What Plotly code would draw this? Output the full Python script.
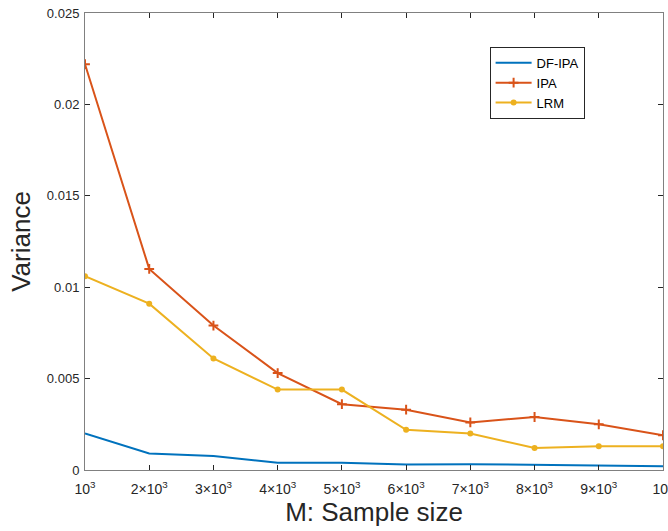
import plotly.graph_objects as go

sample_sizes = [1000, 2000, 3000, 4000, 5000, 6000, 7000, 8000, 9000, 10000]
df_ipa = [0.0020, 0.0009, 0.00077, 0.0004, 0.0004, 0.0003, 0.00032, 0.00028, 0.00026, 0.00021]
ipa = [0.0222, 0.0110, 0.0079, 0.0053, 0.0036, 0.0033, 0.0026, 0.0029, 0.0025, 0.0019]
lrm = [0.0106, 0.0091, 0.0061, 0.0044, 0.0044, 0.0022, 0.0020, 0.0012, 0.0013, 0.0013]

x_tick_text = ["10<sup>3</sup>"] + [f"{i}×10<sup>3</sup>" for i in range(2, 10)] + ["10<sup>4</sup>"]
y_tick_vals = [0, 0.005, 0.01, 0.015, 0.02, 0.025]
y_tick_text = ["0", "0.005", "0.01", "0.015", "0.02", "0.025"]

FONT = "Liberation Sans, Arial, Helvetica"
TXT = "#262626"

fig = go.Figure()
fig.add_trace(go.Scatter(x=sample_sizes, y=df_ipa, mode="lines", name="DF-IPA",
                         line=dict(color="#0072BD", width=2)))
fig.add_trace(go.Scatter(x=sample_sizes, y=ipa, mode="lines+markers", name="IPA",
                         line=dict(color="#D95319", width=2),
                         marker=dict(symbol="cross-thin", size=7,
                                     line=dict(color="#D95319", width=2))))
fig.add_trace(go.Scatter(x=sample_sizes, y=lrm, mode="lines+markers", name="LRM",
                         line=dict(color="#EDB120", width=2),
                         marker=dict(symbol="circle", size=6, color="#EDB120")))

axis_common = dict(showline=True, linecolor="#808080", linewidth=1, mirror="ticks",
                   ticks="inside", ticklen=5, tickcolor=TXT, showgrid=False,
                   zeroline=False, automargin=False)

fig.update_xaxes(range=[1000, 10000], tickvals=sample_sizes, ticktext=x_tick_text,
                 ticklabeloverflow="allow", ticklabelstandoff=6,
                 tickfont=dict(family=FONT, size=14, color=TXT),
                 title=dict(text="M: Sample size", font=dict(family=FONT, size=26, color=TXT),
                            standoff=6),
                 **axis_common)
fig.update_yaxes(range=[0, 0.025], tickvals=y_tick_vals, ticktext=y_tick_text,
                 ticklabelstandoff=2,
                 tickfont=dict(family=FONT, size=13, color=TXT),
                 title=dict(text="Variance", font=dict(family=FONT, size=26, color=TXT),
                            standoff=8),
                 **axis_common)

fig.update_layout(
    width=668, height=531,
    margin=dict(l=85, r=5, t=13, b=61),
    plot_bgcolor="white", paper_bgcolor="white",
    legend=dict(x=0.70, y=0.926, xanchor="left", yanchor="top",
                bgcolor="white", bordercolor=TXT, borderwidth=1,
                font=dict(family=FONT, size=13, color="black"),
                tracegroupgap=0, itemwidth=36),
    showlegend=True,
)

fig.write_html("out.html", config={"displayModeBar": False},
               post_script="document.body.style.margin='0';document.body.style.overflow='hidden';")
